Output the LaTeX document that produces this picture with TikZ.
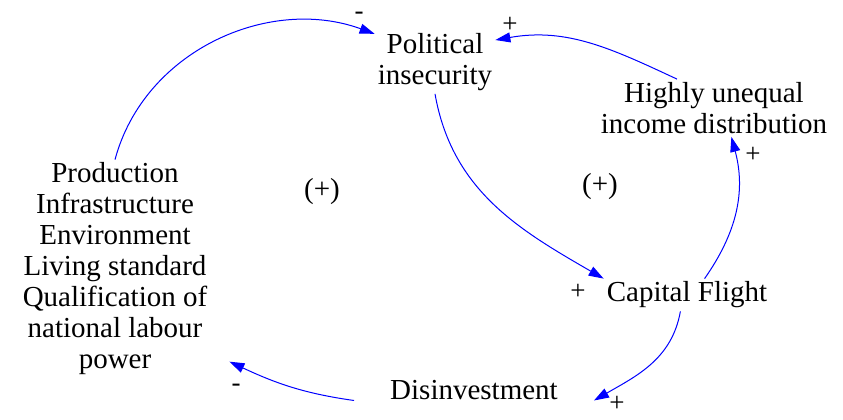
\documentclass[tikz,border=0pt]{standalone}
\usepackage{fontspec}
\setmainfont{Liberation Serif}
\usetikzlibrary{arrows.meta}
\definecolor{linkc}{RGB}{0,0,255}
\tikzset{
  var/.style={align=center, inner sep=3pt, font=\fontsize{29}{31}\selectfont},
  sgn/.style={inner sep=0pt, font=\fontsize{27}{31}\selectfont},
  link/.style={-{Triangle[length=15pt,width=10pt]}, line width=1pt, color=linkc},
}

\begin{document}
\begin{tikzpicture}[x=1pt,y=1pt]
  \useasboundingbox (0,0) rectangle (843,-420);

  % variables of the loops
  \node[var] (pol) at (435,-62) {Political\\insecurity};
  \node[var] (ineq) at (714,-108) {Highly unequal\\income distribution};
  \node[var] (flight) at (687,-295) {Capital Flight};
  \node[var, inner xsep=36pt] (disinv) at (474,-390) {Disinvestment};
  \node[var, inner xsep=22pt] (prod) at (115,-269)
        {Production\\Infrastructure\\Environment\\Living standard\\Qualification of\\national labour\\power};

  % loop markers
  \node[var] (loopL) at (322,-192) {(+)};
  \node[var] (loopR) at (600,-187) {(+)};

  % causal links
  \draw[link] (prod.north) to[out=75, in=160] (pol.155);
  \draw[link] (pol.south) to[out=-80, in=150] (flight.north west);
  \draw[link] (flight.43) to[out=55, in=-75] (ineq.-59);
  \draw[link] (ineq.142) to[out=155, in=10] (pol.20);
  \draw[link] (flight.-112) to[out=-100, in=30] (disinv.-5);
  \draw[link] (disinv.185) to[out=172, in=-25] (prod.-39.5);

  % polarities
  \node[sgn] (s1) at (359,-16) {-};
  \node[sgn] (s2) at (510,-25) {+};
  \node[sgn] (s3) at (578,-292) {+};
  \node[sgn] (s4) at (753,-155) {+};
  \node[sgn] (s5) at (617,-404) {+};
  \node[sgn] (s6) at (236,-388) {-};
\end{tikzpicture}
\end{document}
